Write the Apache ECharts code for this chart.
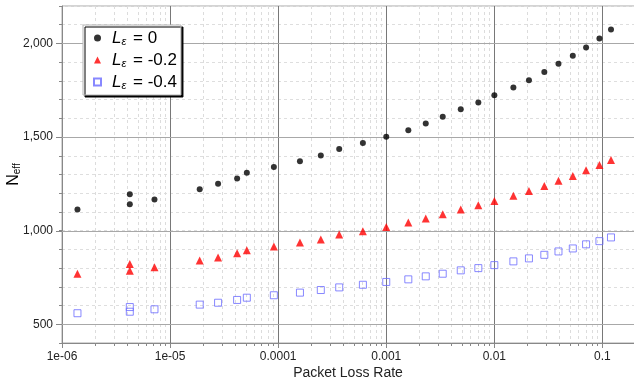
<!DOCTYPE html>
<html>
<head>
<meta charset="utf-8">
<script src="https://cdn.jsdelivr.net/npm/echarts@6/dist/echarts.min.js"></script>
<style>
  html, body { margin: 0; padding: 0; background: #fff; }
  #chart { width: 634px; height: 380px; }
</style>
</head>
<body>
<div id="chart"></div>
<script>
// packet loss rate (x) shared by all three series
const lossRate = [1.39e-6, 4.24e-6, 4.24e-6, 7.17e-6, 1.88e-5, 2.78e-5, 4.17e-5, 5.13e-5, 9.12e-5,
  1.59e-4, 2.48e-4, 3.67e-4, 6.08e-4, 1.0e-3, 1.60e-3, 2.32e-3, 3.33e-3, 4.89e-3, 7.11e-3,
  0.0100, 0.0150, 0.0209, 0.0290, 0.0392, 0.0532, 0.0706, 0.0938, 0.120];
const nEffL0 = [1113, 1195, 1141, 1167, 1221, 1250, 1278, 1310, 1340, 1371, 1401, 1436, 1468, 1502,
  1536, 1572, 1609, 1648, 1685, 1723, 1765, 1804, 1847, 1892, 1934, 1979, 2027, 2075];
const nEffL02 = [770, 822, 786, 804, 841, 857, 879, 896, 916, 937, 953, 980, 997, 1020,
  1044, 1065, 1088, 1113, 1136, 1159, 1186, 1212, 1239, 1267, 1292, 1323, 1351, 1378];
const nEffL04 = [559, 592, 567, 580, 605, 615, 630, 642, 655, 669, 683, 697, 711, 726,
  740, 756, 770, 788, 800, 816, 836, 852, 871, 889, 905, 927, 944, 964];

const seriesNames = ['Lε = 0', 'Lε = -0.2', 'Lε = -0.4'];
const legendValues = ['0', '-0.2', '-0.4'];
const xTickLabels = ['1e-06', '1e-05', '0.0001', '0.001', '0.01', '0.1'];
const yMajorTicks = [500, 1000, 1500, 2000];

const X_MIN = 1e-6, X_MAX = 0.3, Y_MIN = 400, Y_MAX = 2200;
const FONT = '"Liberation Sans", Arial, sans-serif';

// minor log ticks 2..9 in every decade
const xMinorTicks = [];
for (let e = -6; e <= -1; e++) {
  for (let m = 2; m <= 9; m++) xMinorTicks.push(Number((m * Math.pow(10, e)).toPrecision(3)));
}

const crisp = v => Math.round(v) + 0.5;

const chart = echarts.init(document.getElementById('chart'));

const option = {
  animation: false,
  backgroundColor: '#fff',
  grid: {
    left: 62, right: -20, top: 6, bottom: 37,
    containLabel: false, outerBoundsMode: 'none',
    show: true, borderColor: '#a8a8a8', borderWidth: 1, backgroundColor: 'transparent'
  },
  legend: {
    orient: 'vertical',
    left: 83, top: 25,
    padding: [2, 4, 2, 10],
    itemGap: 0,
    itemWidth: 7, itemHeight: 7,
    backgroundColor: '#fff',
    borderColor: '#b4b4b4', borderWidth: 1, borderRadius: 0,
    shadowColor: '#000', shadowBlur: 0, shadowOffsetX: 2, shadowOffsetY: 2,
    data: seriesNames,
    formatter: name => '{i|L}{s|ε}{t| = ' + legendValues[seriesNames.indexOf(name)] + '}',
    textStyle: {
      color: '#000', fontFamily: FONT, fontSize: 17, lineHeight: 22,
      rich: {
        i: { fontStyle: 'italic', fontSize: 17, fontFamily: FONT, lineHeight: 22, padding: [0, 0, 0, 6] },
        s: { fontStyle: 'italic', fontSize: 11, fontFamily: FONT, lineHeight: 22, padding: [8, 2, 0, 0] },
        t: { fontSize: 17, fontFamily: FONT, lineHeight: 22 }
      }
    }
  },
  xAxis: {
    type: 'log', logBase: 10, min: X_MIN, max: X_MAX,
    name: 'Packet Loss Rate', nameLocation: 'middle', nameGap: 23, nameMoveOverlap: false,
    nameTextStyle: { fontFamily: FONT, fontSize: 14, color: '#222', padding: [0, 20, 0, 0] },
    axisLine: { show: true, lineStyle: { color: '#888', width: 1 } },
    axisTick: { show: true, length: 5, lineStyle: { color: '#888' } },
    axisLabel: {
      margin: 8, fontFamily: FONT, fontSize: 12, color: '#222',
      showMaxLabel: false,
      formatter: v => {
        const i = Math.round(Math.log10(v)) + 6;
        return xTickLabels[i] !== undefined && Math.abs(Math.log10(v) - Math.round(Math.log10(v))) < 1e-6 ? xTickLabels[i] : '';
      }
    },
    splitLine: { show: true, lineStyle: { color: '#787878', width: 1 } },
    minorTick: { show: false }, minorSplitLine: { show: false }
  },
  yAxis: {
    type: 'value', min: Y_MIN, max: Y_MAX, interval: 100,
    name: '{n|N}{s|eff}', nameLocation: 'middle', nameGap: 40, nameRotate: 90, nameMoveOverlap: false,
    nameTextStyle: {
      color: '#000',
      rich: {
        n: { fontFamily: FONT, fontSize: 16, color: '#000' },
        s: { fontFamily: FONT, fontSize: 10, color: '#000', padding: [7, 0, 0, 0] }
      }
    },
    axisLine: { show: true, lineStyle: { color: '#888', width: 1 } },
    axisTick: { show: true, length: 3, lineStyle: { color: '#888' } },
    axisLabel: {
      margin: 9, fontFamily: FONT, fontSize: 12, color: '#222',
      formatter: v => yMajorTicks.indexOf(v) >= 0 ? v.toLocaleString('en-US') : ''
    },
    splitLine: { show: true, lineStyle: { color: '#dedede', type: [3, 3], width: 1 } }
  },
  series: [
    {
      // minor log gridlines and ticks on the x axis
      type: 'custom', silent: true, z: 1, clip: false,
      data: xMinorTicks.map(v => [v, Y_MIN]),
      renderItem: (params, api) => {
        const top = api.coord([api.value(0), Y_MAX]);
        const bot = api.coord([api.value(0), Y_MIN]);
        const x = crisp(top[0]);
        return {
          type: 'group',
          children: [
            { type: 'line', shape: { x1: x, y1: top[1], x2: x, y2: bot[1] },
              style: { stroke: '#dcdcdc', lineWidth: 1, lineDash: [3, 3] } },
            { type: 'line', shape: { x1: x, y1: bot[1], x2: x, y2: bot[1] + 3 },
              style: { stroke: '#888', lineWidth: 1 } }
          ]
        };
      }
    },
    {
      // major horizontal gridlines and longer y ticks
      type: 'custom', silent: true, z: 1, clip: false,
      data: yMajorTicks.map(v => [X_MIN, v]),
      renderItem: (params, api) => {
        const left = api.coord([X_MIN, api.value(1)]);
        const right = api.coord([X_MAX, api.value(1)]);
        const y = crisp(left[1]);
        return {
          type: 'group',
          children: [
            { type: 'line', shape: { x1: left[0], y1: y, x2: right[0], y2: y },
              style: { stroke: '#a8a8a8', lineWidth: 1 } },
            { type: 'line', shape: { x1: left[0] - 6, y1: y, x2: left[0], y2: y },
              style: { stroke: '#888', lineWidth: 1 } }
          ]
        };
      }
    },
    {
      name: seriesNames[0], type: 'scatter', z: 5,
      symbol: 'circle', symbolSize: 6,
      itemStyle: { color: '#000' },
      data: lossRate.map((x, i) => [x, nEffL0[i]])
    },
    {
      name: seriesNames[1], type: 'scatter', z: 5,
      symbol: 'triangle', symbolSize: 8,
      itemStyle: { color: '#ff0000' },
      data: lossRate.map((x, i) => [x, nEffL02[i]])
    },
    {
      name: seriesNames[2], type: 'scatter', z: 5,
      symbol: 'rect', symbolSize: 7,
      itemStyle: { color: 'rgba(255,255,255,0)', borderColor: '#6a6aff', borderWidth: 1 },
      data: lossRate.map((x, i) => [x, nEffL04[i]])
    }
  ]
};

chart.setOption(option);
</script>
</body>
</html>
